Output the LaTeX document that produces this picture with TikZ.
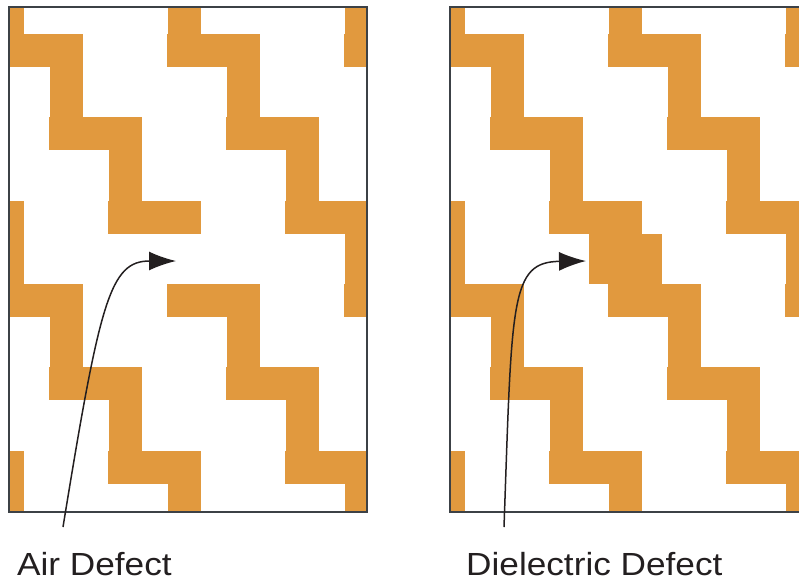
\documentclass[tikz,border=0pt]{standalone}
\usepackage{fontspec}
\setmainfont{Liberation Sans}
\usepackage{graphicx}
\usepackage{tikz}
\usetikzlibrary{arrows.meta}
\definecolor{ochre}{HTML}{E1993E}
\definecolor{frameink}{HTML}{3C4146}
\definecolor{ink}{HTML}{231F20}
\tikzset{
  >=Latex,
  bar/.style={fill=ochre},
  panel/.style={draw=frameink,line width=1.6pt},
  pointer/.style={-{Latex[length=27pt,width=19pt]},line width=1.5pt,draw=ink},
  caption/.style={font=\fontsize{32}{36}\selectfont,text=ink,inner sep=0pt,anchor=base west},
  pics/stairs/.style={code={
    \foreach \k in {-1,...,5}{
      \fill[bar] ({-10+59*\k},{34+83.33*\k}) rectangle ++(93,33);
      \fill[bar] ({50+59*\k},{34+83.33*\k}) rectangle ++(33,116.33);
    }
  }}
}

\begin{document}
\begin{tikzpicture}[x=1pt,y=-1pt]
  \useasboundingbox (0,0) rectangle (799,579);
  \clip (0,0) rectangle (799,579);

  % staircase lattice, same in both panels
  \foreach \px in {0,441}{
    \begin{scope}[xshift=\px pt]
      \clip (9,7) rectangle (367,512);
      \foreach \j in {-2,...,2} \pic at ({177*\j},0) {stairs};
    \end{scope}
  }

  % defects
  \fill[white] (167,233.67) rectangle (202,284);
  \fill[bar] (589,234) rectangle (662,284);

  \draw[panel] (9,7) rectangle (367,512);
  \draw[panel] (450,7) rectangle (808,512);

  \node[caption] (airlabel) at (17,575) {\scalebox{1.1}[1]{Air Defect}};
  \node[caption] (dielabel) at (466,575) {\scalebox{1.1}[1]{Dielectric Defect}};

  \coordinate (airtail) at (63,527);
  \coordinate (airgap) at (176,261);
  \coordinate (dietail) at (504,527);
  \coordinate (dieblock) at (586,261);

  \draw[pointer] (airtail) .. controls (100,300) and (110,261) .. (airgap);
  \draw[pointer] (dietail) .. controls (512,300) and (510,262) .. (dieblock);
\end{tikzpicture}
\end{document}
